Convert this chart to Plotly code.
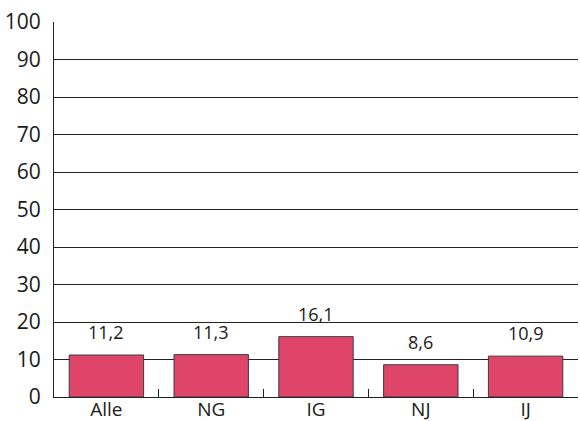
import plotly.graph_objects as go

categories = ["Alle", "NG", "IG", "NJ", "IJ"]
values = [11.2, 11.3, 16.1, 8.6, 10.9]
value_labels = ["11,2", "11,3", "16,1", "8,6", "10,9"]
y_ticks = list(range(0, 101, 10))

fig = go.Figure()
fig.add_trace(go.Bar(
    x=categories,
    y=values,
    width=0.71,
    marker=dict(color="#df4568", line=dict(color="#3a3a3a", width=1)),
    hoverinfo="skip",
))

for cat, val, lab in zip(categories, values, value_labels):
    fig.add_annotation(
        x=cat, y=val, text=lab, showarrow=False,
        yanchor="bottom", yshift=9,
        font=dict(family="Open Sans", size=18, color="#1a1a1a"),
    )

fig.update_layout(
    width=580, height=421,
    margin=dict(l=54, r=2, t=22, b=24),
    paper_bgcolor="white", plot_bgcolor="white",
    showlegend=False,
    font=dict(family="Open Sans", size=20, color="#1a1a1a"),
    bargap=0.29,
)
fig.update_xaxes(
    type="category", automargin=False,
    showline=True, linecolor="#222", linewidth=1,
    ticks="inside", tickson="boundaries", ticklen=8,
    tickcolor="#222", tickwidth=1,
    showgrid=False,
    ticklabelstandoff=-5,
    tickfont=dict(size=19),
)
fig.update_yaxes(
    range=[0, 100], automargin=False,
    tickvals=y_ticks,
    showline=True, linecolor="#222", linewidth=1,
    showgrid=True, gridcolor="#222", gridwidth=1,
    zeroline=False,
    ticks="", ticklabelstandoff=8,
    tickfont=dict(size=21),
)

fig.write_html("out.html")
